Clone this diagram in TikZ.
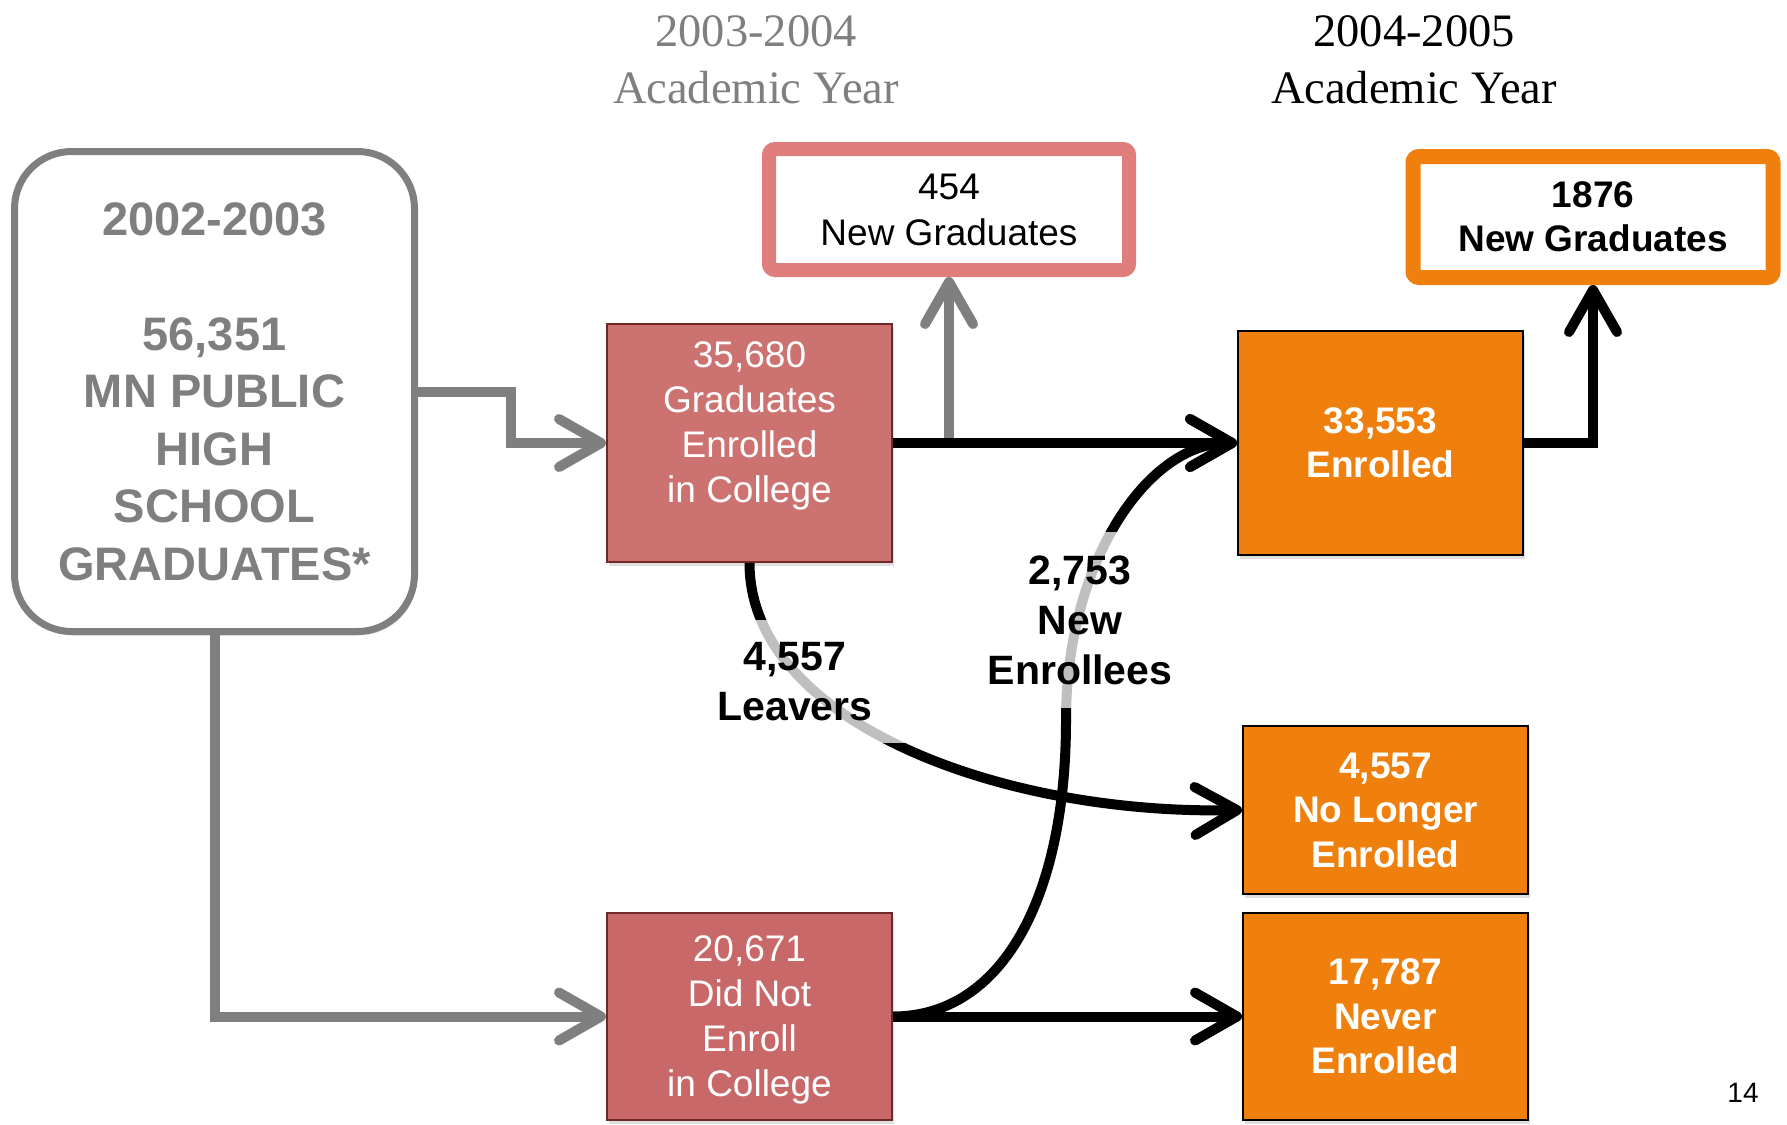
\documentclass[tikz,border=0pt]{standalone}
\usepackage{fontspec}
\setmainfont{Liberation Serif}
\setsansfont{Liberation Sans}
\usetikzlibrary{arrows.meta,shadows,positioning}

\definecolor{boxgray}{RGB}{127,127,127}
\definecolor{redfill}{RGB}{204,115,114}
\definecolor{redfilldark}{RGB}{200,104,104}
\definecolor{redline}{RGB}{110,40,40}
\definecolor{pinkline}{RGB}{224,125,125}
\definecolor{orangefill}{RGB}{240,128,14}

\newcommand\hsfont{\sffamily\bfseries\fontsize{47}{57.5}\selectfont}
\newcommand\yearfont{\rmfamily\fontsize{46.5}{57}\selectfont}
\newcommand\redfont{\sffamily\fontsize{37}{45}\selectfont}
\newcommand\orangefont{\sffamily\bfseries\fontsize{37}{44.5}\selectfont}
\newcommand\newgradfont{\sffamily\fontsize{37}{46}\selectfont}
\newcommand\flowfont{\sffamily\bfseries\fontsize{41}{50}\selectfont}
\newcommand\pagefont{\sffamily\fontsize{28}{30}\selectfont}

\tikzstyle{every node}+=[inner sep=0pt,align=center]
\tikzstyle{softshadow}=[drop shadow={shadow xshift=2pt,shadow yshift=-4pt,opacity=0.25}]
\tikzstyle{hsbox}=[draw=boxgray,line width=7pt,fill=white,rounded corners=57pt,minimum width=400pt,minimum height=480pt,text=boxgray,font=\hsfont,softshadow]
\tikzstyle{redbox}=[draw=redline,line width=2pt,fill=redfill,minimum width=285pt,text=white,font=\redfont,text depth=0pt,softshadow]
\tikzstyle{orangebox}=[draw=black,line width=2pt,fill=orangefill,minimum width=285pt,text=white,font=\orangefont,softshadow]
\tikzstyle{gradbox}=[fill=white,line width=14pt,rounded corners=6pt,minimum width=360pt,minimum height=121pt,softshadow]
\tikzstyle{grayarrow}=[draw=boxgray,line width=10pt,-{Straight Barb[round,length=42pt,width=48pt]}]
\tikzstyle{blackarrow}=[draw=black,line width=10pt,-{Straight Barb[round,length=42pt,width=48pt]}]
\tikzstyle{flowlabel}=[fill=white,fill opacity=0.75,text opacity=1,font=\flowfont]

\begin{document}
\begin{tikzpicture}[x=1pt,y=-1pt]
\useasboundingbox (0,0) rectangle (1787,1124);

% year headings
\node [font=\yearfont,text=boxgray] (year1) at (756,60) {2003-2004\\Academic Year};
\node [font=\yearfont] (year2) at (1414,60) {2004-2005\\Academic Year};

% boxes
\node [hsbox] (hs) at (214.5,391.5) {2002-2003\\[57.5pt]56,351\\MN PUBLIC\\HIGH\\SCHOOL\\GRADUATES*};

\node [redbox,minimum height=238pt] (grad) at (749.5,443) {};
\node [text=white,font=\redfont] at ([yshift=17pt]grad.center) {35,680\\Graduates\\Enrolled\\in College};
\node [redbox,fill=redfilldark,minimum height=207pt] (notenr) at (749.5,1016.5) {20,671\\Did Not\\Enroll\\in College};

\node [gradbox,draw=pinkline,font=\newgradfont] (newgrad1) at (949,209.5) {454\\New Graduates};
\node [gradbox,draw=orangefill,line width=15pt,font=\orangefont] (newgrad2) at (1593,217) {1876\\New Graduates};

\node [orangebox,minimum height=224pt] (enr) at (1380.5,443) {33,553\\Enrolled};
\node [orangebox,minimum height=168pt] (nolonger) at (1385.5,810) {4,557\\No Longer\\Enrolled};
\node [orangebox,minimum height=207pt] (never) at (1385.5,1016.5) {17,787\\Never\\Enrolled};

% flows
\draw[grayarrow] (hs.east) -- ++(93,0) |- (grad.west);
\draw[grayarrow] (hs.south) |- (notenr.west);
\draw[grayarrow] (newgrad1.south |- grad.east) -- (newgrad1.south);

\draw[blackarrow] (grad.east) -- (enr.west);
\draw[blackarrow] (enr.east) -| (newgrad2.south);
\draw[blackarrow] (notenr.east) -- (never.west);

\coordinate (turn) at (1066,720);
\draw[blackarrow] (grad.south) .. controls +(0,158) and +(-243,5) .. (nolonger.west);
\draw[blackarrow] (notenr.east) .. controls +(108,0) and +(0,180) .. (turn)
                               .. controls +(0,-160) and +(-88,0) .. (enr.west);

% flow labels
\node [flowlabel,minimum width=230pt,minimum height=123pt] (leavers) at (795,681.5) {4,557\\Leavers};
\node [flowlabel,minimum width=240pt,minimum height=176pt] (newenr) at (1080,620) {2,753\\New\\Enrollees};

\node [font=\pagefont] (page) at (1743,1093) {14};
\end{tikzpicture}
\end{document}
